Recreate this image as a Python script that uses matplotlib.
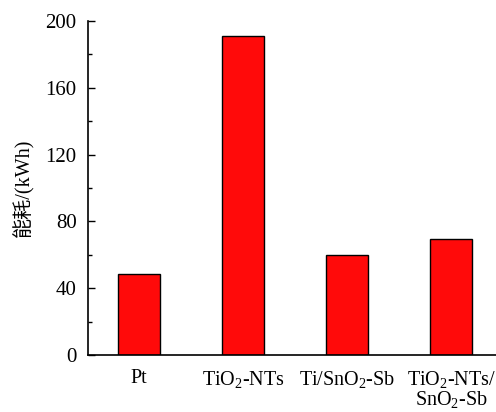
import matplotlib
matplotlib.use("Agg")
import matplotlib.pyplot as plt
from matplotlib.ticker import MultipleLocator

plt.rcParams['font.family'] = ['Liberation Serif', 'Noto Sans CJK SC']
plt.rcParams['mathtext.fontset'] = 'custom'
plt.rcParams['mathtext.rm'] = 'Liberation Serif'
plt.rcParams['mathtext.it'] = 'Liberation Serif'

# 数据
categories = ['Pt', 'TiO$_2$-NTs', 'Ti/SnO$_2$-Sb', 'TiO$_2$-NTs/\nSnO$_2$-Sb']
energy = [48.5, 191, 60, 69.5]
ylabel = '能耗/(kWh)'

fig = plt.figure(figsize=(4.96, 4.12), dpi=100)
ax = fig.add_axes([0.177, 0.138, 0.823, 0.811])

x = range(len(categories))
ax.bar(x, energy, width=0.4, color='#ff0a0a', edgecolor='black', linewidth=1.0)

ax.set_xlim(-0.49, 3.43)
ax.set_ylim(0, 200)
ax.yaxis.set_major_locator(MultipleLocator(40))
ax.yaxis.set_minor_locator(MultipleLocator(20))
ax.set_xticks(list(x))
ax.set_xticklabels(categories, fontsize=14.5, linespacing=0.95)
ax.tick_params(axis='x', length=0, pad=10)
ax.tick_params(axis='y', which='major', direction='in', length=5, width=1, labelsize=15, pad=8)
ax.tick_params(axis='y', which='minor', direction='in', length=3, width=1)

ax.spines['top'].set_visible(False)
ax.spines['right'].set_visible(False)
for s in ['left', 'bottom']:
    ax.spines[s].set_linewidth(1.2)

ax.set_ylabel(ylabel, fontsize=14.5, labelpad=8)

plt.savefig('out.png', dpi=100)
plt.close(fig)
